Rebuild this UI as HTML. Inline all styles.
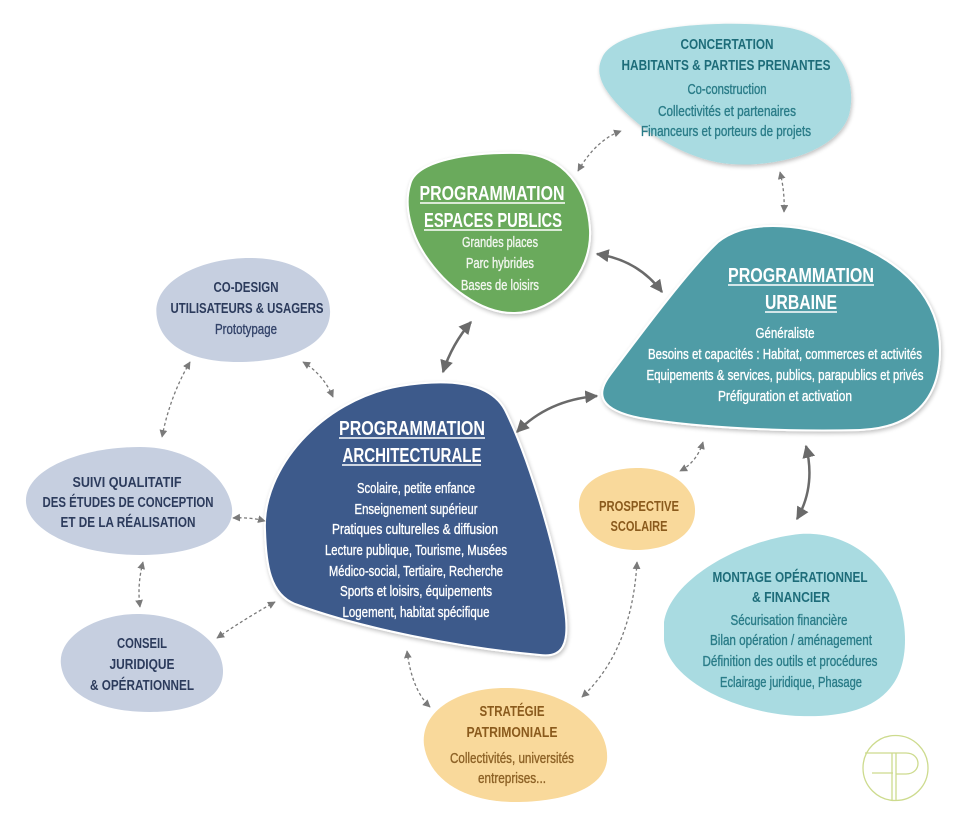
<!DOCTYPE html>
<html>
<head>
<meta charset="utf-8">
<style>
  html,body{margin:0;padding:0;background:#ffffff;}
  svg{display:block;}
  .tb{font-family:"Liberation Sans Narrow","Liberation Sans",sans-serif;font-weight:bold;}
  .tn{font-family:"Liberation Sans Narrow","Liberation Sans",sans-serif;font-weight:normal;stroke-width:0.35;}
</style>
</head>
<body>
<svg width="960" height="824" viewBox="0 0 960 824" xmlns="http://www.w3.org/2000/svg">
  <defs>
    <filter id="sh" x="-10%" y="-10%" width="120%" height="125%">
      <feGaussianBlur in="SourceAlpha" stdDeviation="2"/>
      <feOffset dx="1" dy="2" result="o"/>
      <feComponentTransfer><feFuncA type="linear" slope="0.25"/></feComponentTransfer>
      <feMerge><feMergeNode/><feMergeNode in="SourceGraphic"/></feMerge>
    </filter>
    <marker id="ahs" viewBox="0 0 10 10" refX="9" refY="5" markerWidth="5.2" markerHeight="5.2" orient="auto-start-reverse" markerUnits="strokeWidth">
      <path d="M0,0 L10,5 L0,10 z" fill="#6a6a6a"/>
    </marker>
    <marker id="ahd" viewBox="0 0 10 10" refX="9" refY="5" markerWidth="6" markerHeight="6" orient="auto-start-reverse" markerUnits="strokeWidth">
      <path d="M0,0 L10,5 L0,10 z" fill="#7a7a7a"/>
    </marker>
  </defs>

  <!-- ===== BLOBS ===== -->
  <path d="M 602 58 C 615 25, 730 18, 790 28 C 840 38, 858 80, 849 115 C 838 150, 780 168, 730 164 C 680 160, 625 120, 605 88 C 598 76, 598 66, 602 58 Z"
        fill="#a9dbe1" filter="url(#sh)"/>
  <path d="M 410 185 C 415 160, 470 152, 520 153 C 565 155, 588 190, 590 230 C 592 275, 555 312, 515 313 C 480 314, 445 285, 425 255 C 410 232, 404 205, 410 185 Z"
        fill="#6aaa5c" stroke="#ffffff" stroke-width="2" filter="url(#sh)"/>
  <path d="M 718 242 C 745 220, 795 222, 845 240 C 905 262, 940 300, 940 350 C 940 402, 910 428, 860 430 C 790 432, 700 428, 640 418 C 600 410, 595 395, 610 375 C 640 335, 690 268, 718 242 Z"
        fill="#4f9ca6" stroke="#ffffff" stroke-width="2" filter="url(#sh)"/>
  <path d="M 265 530 C 262 470, 320 400, 400 386 C 450 378, 490 382, 505 410 C 525 450, 555 540, 565 610 C 570 645, 562 658, 540 655 C 460 648, 360 628, 295 604 C 270 594, 266 565, 265 530 Z"
        fill="#3e5a8b" stroke="#ffffff" stroke-width="2" filter="url(#sh)"/>
  <path d="M 157 318 C 150 282, 200 258, 250 258 C 300 258, 332 284, 330 314 C 328 345, 290 362, 238 362 C 190 362, 162 345, 157 318 Z"
        fill="#c6cfe0"/>
  <path d="M 26 502 C 24 470, 80 447, 140 447 C 192 447, 228 478, 232 508 C 235 540, 190 555, 140 555 C 80 555, 28 532, 26 502 Z"
        fill="#c6cfe0"/>
  <path d="M 61 665 C 57 635, 100 613, 140 614 C 185 615, 222 640, 223 670 C 224 700, 190 712, 150 712 C 100 712, 65 695, 61 665 Z"
        fill="#c6cfe0"/>
  <path d="M 579 505 C 579 482, 605 468, 638 468 C 672 468, 696 488, 695 512 C 694 536, 668 550, 636 550 C 602 550, 579 530, 579 505 Z"
        fill="#f9d99b"/>
  <path d="M 424 745 C 420 710, 460 688, 505 688 C 560 688, 610 720, 607 760 C 604 790, 560 802, 515 802 C 465 802, 429 780, 424 745 Z"
        fill="#f9d99b"/>
  <path d="M 664 622 C 670 580, 740 540, 800 534 C 860 530, 905 580, 905 640 C 905 700, 860 718, 800 716 C 740 714, 668 682, 664 640 Z"
        fill="#a9dbe1"/>

  <!-- ===== SOLID ARROWS ===== -->
  <g fill="none" stroke="#6a6a6a" stroke-width="2.5" marker-start="url(#ahs)" marker-end="url(#ahs)">
    <path d="M 597 254 Q 638 260 662 292"/>
    <path d="M 443 372 Q 452 344 471 322"/>
    <path d="M 597 396 Q 548 400 517 432"/>
    <path d="M 806 446 Q 816 486 797 519"/>
  </g>

  <!-- ===== DOTTED ARROWS ===== -->
  <g fill="none" stroke="#7a7a7a" stroke-width="1.3" stroke-dasharray="3 2.5" marker-start="url(#ahd)" marker-end="url(#ahd)">
    <path d="M 578 171 Q 596 140 621 131"/>
    <path d="M 780 172 Q 785 192 784 212"/>
    <path d="M 190 362 Q 170 396 162 437"/>
    <path d="M 303 362 Q 323 374 333 397"/>
    <path d="M 233 518 Q 250 517 265 521"/>
    <path d="M 143 562 Q 137 585 140 607"/>
    <path d="M 217 638 Q 246 618 275 602"/>
    <path d="M 407 651 Q 412 690 430 707"/>
    <path d="M 637 562 Q 632 650 582 697"/>
    <path d="M 703 442 Q 697 462 680 471"/>
  </g>

  <!-- ===== TEXT: CONCERTATION ===== -->
  <g text-anchor="middle">
    <text class="tb" x="727" y="49" font-size="14.5" fill="#1d6c79" textLength="93" lengthAdjust="spacingAndGlyphs">CONCERTATION</text>
    <text class="tb" x="726" y="70" font-size="14.5" fill="#1d6c79" textLength="209" lengthAdjust="spacingAndGlyphs">HABITANTS &amp; PARTIES PRENANTES</text>
    <text class="tn" x="727" y="94" font-size="14.5" fill="#2a7c88" stroke="#2a7c88" textLength="79" lengthAdjust="spacingAndGlyphs">Co-construction</text>
    <text class="tn" x="727" y="116" font-size="14.5" fill="#2a7c88" stroke="#2a7c88" textLength="138" lengthAdjust="spacingAndGlyphs">Collectivités et partenaires</text>
    <text class="tn" x="726" y="136" font-size="14.5" fill="#2a7c88" stroke="#2a7c88" textLength="170" lengthAdjust="spacingAndGlyphs">Financeurs et porteurs de projets</text>
  </g>

  <!-- ===== TEXT: ESPACES PUBLICS ===== -->
  <g text-anchor="middle" fill="#ffffff">
    <text class="tb" x="492" y="200" font-size="20.5" textLength="145" lengthAdjust="spacingAndGlyphs">PROGRAMMATION</text>
    <text class="tb" x="493" y="227" font-size="20.5" textLength="138" lengthAdjust="spacingAndGlyphs">ESPACES PUBLICS</text>
    <text class="tn" x="500" y="247" font-size="14.5" fill="#f2f6ef" stroke="#f2f6ef" textLength="76" lengthAdjust="spacingAndGlyphs">Grandes places</text>
    <text class="tn" x="500" y="268" font-size="14.5" fill="#f2f6ef" stroke="#f2f6ef" textLength="68" lengthAdjust="spacingAndGlyphs">Parc hybrides</text>
    <text class="tn" x="500" y="290" font-size="14.5" fill="#f2f6ef" stroke="#f2f6ef" textLength="78" lengthAdjust="spacingAndGlyphs">Bases de loisirs</text>
  </g>
  <g stroke="#ffffff" stroke-width="1.5">
    <line x1="420" y1="203" x2="565" y2="203"/>
    <line x1="424" y1="230" x2="562" y2="230"/>
  </g>

  <!-- ===== TEXT: URBAINE ===== -->
  <g text-anchor="middle" fill="#ffffff">
    <text class="tb" x="801" y="282" font-size="20.5" textLength="146" lengthAdjust="spacingAndGlyphs">PROGRAMMATION</text>
    <text class="tb" x="801" y="309" font-size="20.5" textLength="72" lengthAdjust="spacingAndGlyphs">URBAINE</text>
    <text class="tn" x="785" y="338" font-size="14.5" stroke="#ffffff" textLength="59" lengthAdjust="spacingAndGlyphs">Généraliste</text>
    <text class="tn" x="785" y="359" font-size="14.5" stroke="#ffffff" textLength="274" lengthAdjust="spacingAndGlyphs">Besoins et capacités : Habitat, commerces et activités</text>
    <text class="tn" x="785" y="380" font-size="14.5" stroke="#ffffff" textLength="277" lengthAdjust="spacingAndGlyphs">Equipements &amp; services, publics, parapublics et privés</text>
    <text class="tn" x="785" y="401" font-size="14.5" stroke="#ffffff" textLength="134" lengthAdjust="spacingAndGlyphs">Préfiguration et activation</text>
  </g>
  <g stroke="#ffffff" stroke-width="1.5">
    <line x1="728" y1="285" x2="874" y2="285"/>
    <line x1="765" y1="312" x2="837" y2="312"/>
  </g>

  <!-- ===== TEXT: ARCHITECTURALE ===== -->
  <g text-anchor="middle" fill="#ffffff">
    <text class="tb" x="412" y="435" font-size="20.5" textLength="146" lengthAdjust="spacingAndGlyphs">PROGRAMMATION</text>
    <text class="tb" x="412" y="462" font-size="20.5" textLength="139" lengthAdjust="spacingAndGlyphs">ARCHITECTURALE</text>
    <text class="tn" x="416" y="493" font-size="14.5" stroke="#ffffff" textLength="118" lengthAdjust="spacingAndGlyphs">Scolaire, petite enfance</text>
    <text class="tn" x="416" y="514" font-size="14.5" stroke="#ffffff" textLength="123" lengthAdjust="spacingAndGlyphs">Enseignement supérieur</text>
    <text class="tn" x="415" y="534" font-size="14.5" stroke="#ffffff" textLength="166" lengthAdjust="spacingAndGlyphs">Pratiques culturelles &amp; diffusion</text>
    <text class="tn" x="416" y="555" font-size="14.5" stroke="#ffffff" textLength="182" lengthAdjust="spacingAndGlyphs">Lecture publique, Tourisme, Musées</text>
    <text class="tn" x="416" y="576" font-size="14.5" stroke="#ffffff" textLength="174" lengthAdjust="spacingAndGlyphs">Médico-social, Tertiaire, Recherche</text>
    <text class="tn" x="416" y="596" font-size="14.5" stroke="#ffffff" textLength="152" lengthAdjust="spacingAndGlyphs">Sports et loisirs, équipements</text>
    <text class="tn" x="416" y="617" font-size="14.5" stroke="#ffffff" textLength="147" lengthAdjust="spacingAndGlyphs">Logement, habitat spécifique</text>
  </g>
  <g stroke="#ffffff" stroke-width="1.5">
    <line x1="339" y1="438" x2="485" y2="438"/>
    <line x1="342" y1="465" x2="481" y2="465"/>
  </g>

  <!-- ===== TEXT: CO-DESIGN ===== -->
  <g text-anchor="middle" fill="#2c3b5c">
    <text class="tb" x="246" y="292" font-size="14.5" textLength="65" lengthAdjust="spacingAndGlyphs">CO-DESIGN</text>
    <text class="tb" x="247" y="313" font-size="14.5" textLength="153" lengthAdjust="spacingAndGlyphs">UTILISATEURS &amp; USAGERS</text>
    <text class="tn" x="246" y="334" font-size="14.5" fill="#34446a" stroke="#34446a" textLength="62" lengthAdjust="spacingAndGlyphs">Prototypage</text>
  </g>

  <!-- ===== TEXT: SUIVI ===== -->
  <g text-anchor="middle" fill="#2c3b5c">
    <text class="tb" x="127" y="487" font-size="14.5" textLength="109" lengthAdjust="spacingAndGlyphs">SUIVI QUALITATIF</text>
    <text class="tb" x="128" y="507" font-size="14.5" textLength="171" lengthAdjust="spacingAndGlyphs">DES ÉTUDES DE CONCEPTION</text>
    <text class="tb" x="128" y="527" font-size="14.5" textLength="135" lengthAdjust="spacingAndGlyphs">ET DE LA RÉALISATION</text>
  </g>

  <!-- ===== TEXT: CONSEIL ===== -->
  <g text-anchor="middle" fill="#2c3b5c">
    <text class="tb" x="142" y="648" font-size="14.5" textLength="50" lengthAdjust="spacingAndGlyphs">CONSEIL</text>
    <text class="tb" x="142" y="669" font-size="14.5" textLength="65" lengthAdjust="spacingAndGlyphs">JURIDIQUE</text>
    <text class="tb" x="142" y="690" font-size="14.5" textLength="104" lengthAdjust="spacingAndGlyphs">&amp; OPÉRATIONNEL</text>
  </g>

  <!-- ===== TEXT: PROSPECTIVE ===== -->
  <g text-anchor="middle" fill="#8a5a1c">
    <text class="tb" x="639" y="511" font-size="14.5" textLength="80" lengthAdjust="spacingAndGlyphs">PROSPECTIVE</text>
    <text class="tb" x="639" y="531" font-size="14.5" textLength="57" lengthAdjust="spacingAndGlyphs">SCOLAIRE</text>
  </g>

  <!-- ===== TEXT: STRATEGIE ===== -->
  <g text-anchor="middle" fill="#8a5a1c">
    <text class="tb" x="512" y="716" font-size="14.5" textLength="65" lengthAdjust="spacingAndGlyphs">STRATÉGIE</text>
    <text class="tb" x="512" y="737" font-size="14.5" textLength="91" lengthAdjust="spacingAndGlyphs">PATRIMONIALE</text>
    <text class="tn" x="512" y="763" font-size="14.5" fill="#8d6226" stroke="#8d6226" textLength="124" lengthAdjust="spacingAndGlyphs">Collectivités, universités</text>
    <text class="tn" x="512" y="783" font-size="14.5" fill="#8d6226" stroke="#8d6226" textLength="68" lengthAdjust="spacingAndGlyphs">entreprises...</text>
  </g>

  <!-- ===== TEXT: MONTAGE ===== -->
  <g text-anchor="middle">
    <text class="tb" x="790" y="582" font-size="14.5" fill="#1d6c79" textLength="155" lengthAdjust="spacingAndGlyphs">MONTAGE OPÉRATIONNEL</text>
    <text class="tb" x="791" y="602" font-size="14.5" fill="#1d6c79" textLength="78" lengthAdjust="spacingAndGlyphs">&amp; FINANCIER</text>
    <text class="tn" x="789" y="625" font-size="14.5" fill="#2a7c88" stroke="#2a7c88" textLength="117" lengthAdjust="spacingAndGlyphs">Sécurisation financière</text>
    <text class="tn" x="791" y="645" font-size="14.5" fill="#2a7c88" stroke="#2a7c88" textLength="162" lengthAdjust="spacingAndGlyphs">Bilan opération / aménagement</text>
    <text class="tn" x="790" y="666" font-size="14.5" fill="#2a7c88" stroke="#2a7c88" textLength="175" lengthAdjust="spacingAndGlyphs">Définition des outils et procédures</text>
    <text class="tn" x="791" y="687" font-size="14.5" fill="#2a7c88" stroke="#2a7c88" textLength="142" lengthAdjust="spacingAndGlyphs">Eclairage juridique, Phasage</text>
  </g>

  <!-- ===== LOGO ===== -->
  <g fill="none" stroke="#cddb8e" stroke-width="1.3">
    <circle cx="895.5" cy="768" r="32.5"/>
    <line x1="865" y1="753" x2="906" y2="753"/>
    <line x1="872" y1="773" x2="893" y2="773"/>
    <line x1="892" y1="753" x2="892" y2="800"/>
    <line x1="896" y1="753" x2="896" y2="801"/>
    <path d="M 906 753 C 922 753, 922 774, 906 774 L 896 774"/>
  </g>
</svg>
</body>
</html>
